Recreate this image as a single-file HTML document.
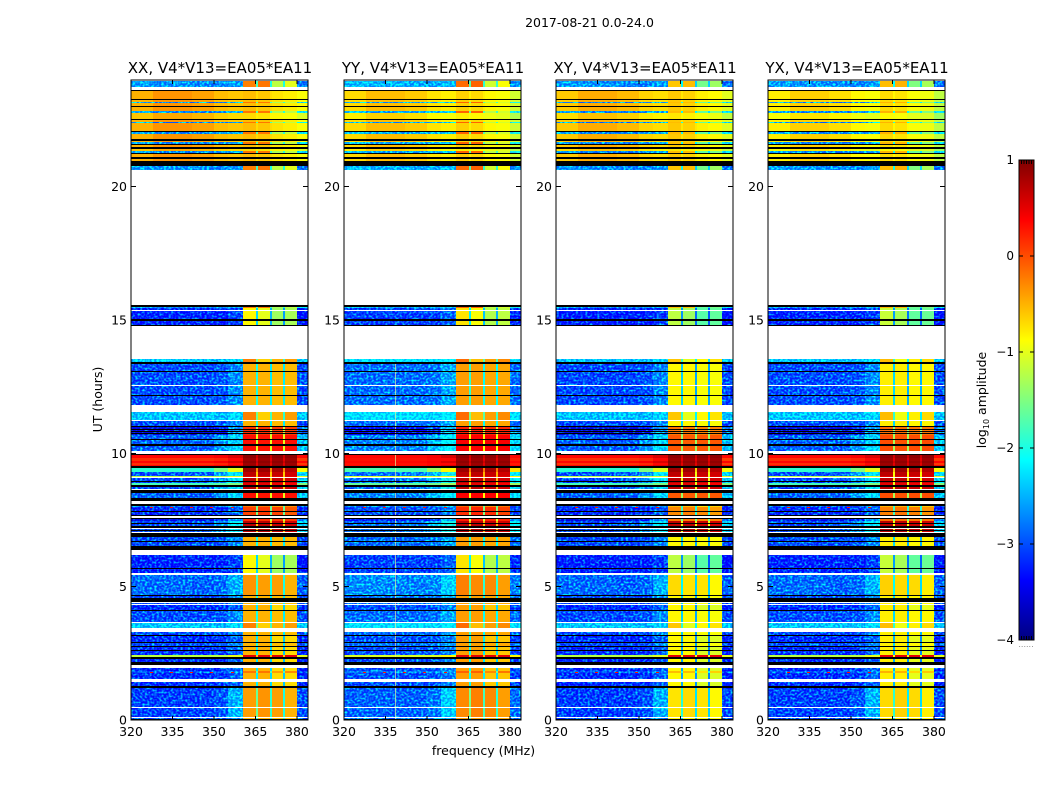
<!DOCTYPE html>
<html><head><meta charset="utf-8"><title>2017-08-21 0.0-24.0</title>
<style>
html,body{margin:0;padding:0;background:#fff}
svg{display:block;font-family:"DejaVu Sans","Liberation Sans",sans-serif;fill:#000}
</style></head>
<body>
<svg id="fig" width="1050" height="800" viewBox="0 0 1050 800" xmlns="http://www.w3.org/2000/svg" shape-rendering="crispEdges">
<defs id="defs"><linearGradient id="jetGrad" x1="0" y1="1" x2="0" y2="0"></linearGradient></defs>
<text x="589.5" y="27" font-size="12.5" text-anchor="middle">2017-08-21 0.0-24.0</text>
<text transform="translate(102,399.5) rotate(-90)" font-size="12.5" text-anchor="middle">UT (hours)</text>
<text x="483.5" y="755" font-size="12.5" text-anchor="middle">frequency (MHz)</text>
<g id="panels"></g>
<g id="cbar"></g>
<text transform="translate(986,400) rotate(-90)" font-size="12.5" text-anchor="middle">log<tspan font-size="8" dy="3">10</tspan><tspan dy="-3"> amplitude</tspan></text>
</svg>
<script>
// Panel titles and polarisation-specific level shifts (log10 amplitude)
const panelTitles = ["XX, V4*V13=EA05*EA11","YY, V4*V13=EA05*EA11","XY, V4*V13=EA05*EA11","YX, V4*V13=EA05*EA11"];
const panelLowShift = [0, 0.15, -0.02, 0];
const panelBandShift = [0, 0.1, -0.35, -0.3];
const panelWarmShift = [0, -0.2, -0.12, -0.3];
// Axis ticks
const freqTicks = [320,335,350,365,380];
const utTicks = [0,5,10,15,20];
const cbarTicks = [1,0,-1,-2,-3,-4];
// Frequency column edges (MHz)
const freqEdges = [320,328,342,350,355,360.4,365.1,365.8,370.2,370.9,374.9,375.6,380,384];
// Spectral profiles: log10 amplitude in each frequency column
const profiles = {
  tb:[-2.6,-2.65,-2.7,-2.7,-2.6,-0.25,-1.8,-0.2,-2.0,-1.2,-2.0,-1.0,-2.8],
  wm:[-0.5,-0.35,-0.42,-0.55,-0.6,-0.55,-0.7,-0.6,-0.7,-0.75,-0.8,-0.8,-0.9],
  wy:[-0.6,-0.45,-0.52,-0.65,-0.7,-0.7,-0.8,-0.75,-0.85,-0.85,-0.9,-0.9,-1.05],
  st:[-2.5,-2.7,-2.7,-2.6,-2.5,-0.2,-1.7,-0.2,-1.8,-1.3,-1.9,-1.2,-2.2],
  de:[-3.2,-3.2,-3.2,-3.2,-3.05,-0.85,-2.3,-1.0,-2.5,-1.35,-2.6,-1.3,-3.3],
  ds:[-3.15,-3.15,-3.15,-3.1,-2.9,-0.5,-2.2,-0.5,-2.3,-0.7,-2.4,-0.7,-3.2],
  dh:[-3.15,-3.15,-3.15,-3.1,-2.9,0.05,-1.5,0.1,-1.6,0.05,-1.6,-0.05,-3.2],
  mi:[-3,-3,-3,-2.95,-2.7,-0.5,-2.0,-0.5,-2.2,-0.55,-2.2,-0.55,-3],
  li:[-2.4,-2.4,-2.4,-2.45,-2.3,-0.25,-1.6,-0.65,-1.8,-0.5,-1.9,-0.4,-2.4],
  dk:[-3.5,-3.5,-3.5,-3.2,-2.6,0.15,-1.2,0.15,-1.2,0.1,-1.2,0.1,-2.8],
  hb:[-3.0,-3.0,-2.9,-2.6,-2.2,0.7,-0.6,0.7,-0.6,0.65,-0.6,0.6,-2.3],
  ho:[-2.9,-2.9,-2.9,-2.6,-2.3,0.3,-1.0,0.28,-1.0,0.3,-1.0,0.3,-2.4],
  rd:[0.35,0.35,0.35,0.4,0.55,0.92,0.6,0.92,0.6,0.92,0.6,0.92,0.35],
  ro:[0.15,0.15,0.15,0.2,0.35,0.85,0.5,0.85,0.5,0.85,0.5,0.85,0.1],
  fa:[-1.9,-1.9,-1.9,-1.5,-1.0,0.85,-0.3,0.85,-0.3,0.8,-0.3,0.75,-0.9],
  ye:[-1.2,-1.2,-1.2,-1.2,-1.0,0.5,-0.6,0.5,-0.6,0.5,-0.6,0.5,-1.0],
  gr:[-1.8,-1.8,-1.8,-1.7,-1.5,0.5,-0.7,0.5,-0.7,0.45,-0.7,0.4,-1.5],
  dt:[-2.9,-2.9,-2.9,-2.9,-2.7,-0.2,-1.6,-0.2,-1.7,-0.4,-1.7,-0.3,-3],
  bl:[-2.85,-2.85,-2.9,-2.85,-2.5,-0.35,-1.8,-0.4,-2.0,-0.4,-2.0,-0.5,-2.9],
  bu:[-3.05,-3.05,-3.05,-2.95,-2.5,-0.4,-1.6,-0.35,-1.9,-0.4,-2.0,-0.5,-3],
  K:null,
  w:null
};
// Time rows, top to bottom: [UT hour at top edge of row, profile]; a row ends where the next begins
const timeRows = [
[23.97,"tb"],[23.73,"w"],[23.63,"K"],[23.59,"wm"],[23.29,"K"],[23.25,"wm"],[23.18,"st"],[23.12,"wm"],[23.03,"K"],[22.99,"wm"],
[22.84,"st"],[22.76,"wy"],[22.54,"K"],[22.50,"wm"],[22.44,"st"],[22.39,"wm"],[22.09,"K"],[22.05,"st"],[21.99,"wm"],[21.77,"K"],
[21.73,"wm"],[21.66,"st"],[21.60,"K"],[21.56,"wm"],[21.47,"K"],[21.43,"wy"],[21.34,"st"],[21.26,"K"],[21.23,"wm"],[21.13,"K"],
[21.09,"wm"],[21.06,"K"],[21.02,"wm"],[20.98,"K"],[20.94,"wm"],[20.93,"K"],[20.79,"tb"],[20.63,"w"],
[15.56,"K"],[15.50,"st"],[15.45,"de"],[15.38,"w"],[15.34,"de"],[15.02,"K"],[14.96,"de"],[14.81,"K"],[14.78,"w"],
[13.52,"li"],[13.41,"K"],[13.35,"mi"],[13.09,"K"],[13.05,"mi"],[12.58,"w"],[12.53,"mi"],[12.19,"K"],[12.15,"mi"],[11.81,"w"],
[11.56,"li"],[11.25,"w"],[11.21,"mi"],[11.03,"K"],[10.99,"dk"],[10.91,"K"],[10.88,"dk"],[10.84,"K"],[10.80,"dk"],[10.76,"K"],[10.73,"dk"],[10.69,"ho"],
[10.54,"K"],[10.50,"ho"],[10.35,"K"],[10.28,"ho"],[10.07,"w"],[9.99,"K"],[9.95,"rd"],[9.83,"ro"],[9.71,"rd"],[9.64,"ro"],[9.56,"rd"],[9.53,"K"],[9.44,"fa"],
[9.30,"hb"],[9.15,"ye"],[9.11,"w"],[9.08,"hb"],[8.96,"K"],[8.93,"hb"],[8.87,"gr"],[8.81,"K"],[8.72,"hb"],[8.68,"w"],[8.64,"hb"],[8.61,"K"],[8.53,"ho"],[8.31,"K"],[8.23,"w"],[8.10,"K"],[8.03,"dt"],
[7.97,"dh"],[7.84,"K"],[7.80,"dh"],[7.69,"K"],[7.65,"w"],[7.59,"K"],[7.54,"dk"],[7.46,"hb"],[7.39,"K"],[7.35,"hb"],[7.28,"K"],[7.20,"w"],[7.16,"hb"],[7.13,"K"],[7.09,"hb"],[7.05,"w"],[7.01,"K"],[6.88,"mi"],
[6.71,"K"],[6.68,"mi"],[6.52,"K"],[6.37,"w"],[6.19,"de"],[5.70,"K"],[5.66,"de"],[5.51,"w"],[5.44,"bl"],[4.69,"K"],[4.65,"mi"],[4.58,"K"],[4.44,"w"],[4.39,"mi"],[4.35,"w"],[4.31,"ds"],[4.13,"K"],[4.07,"mi"],[3.69,"w"],
[3.64,"li"],[3.45,"w"],[3.30,"mi"],[3.19,"K"],[3.15,"ds"],[2.93,"K"],[2.89,"mi"],[2.78,"K"],[2.74,"ds"],[2.63,"K"],[2.59,"ds"],[2.44,"ye"],[2.36,"K"],[2.29,"ds"],[2.18,"K"],[2.06,"w"],[1.96,"ds"],[1.82,"dt"],[1.76,"ds"],[1.52,"w"],[1.44,"ds"],[1.26,"K"],[1.20,"bu"],[0.49,"w"],[0.45,"bu"],[0.11,"w"],[0.08,"mi"],[0.04,"K"],[0.0,"w"]
];
// Narrow RFI bursts: frequencies (MHz) of red spikes, and the UT hours they occur at
const rfiSpikeFreqs = [327,334,341.5,348.7,356];
const rfiSpikeHours = [8.0,1.79];
// Persistent narrow RFI channel seen in the YY panel
const rfiChannelPanel = 1;
const rfiChannelFreq = 338.6;
const rfiChannelMaxUT = 13.5;
// Axis ranges
const freqDomain = [320,384];
const utDomain = [0,24];
const cbarDomain = [-4,1];

const NS = "http://www.w3.org/2000/svg";
const panelLefts = [131,344,556,768];
const panelWidth = 177, plotTop = 80, plotBottom = 720;
function scaleFreq(f, left){ return left + (f-freqDomain[0])/(freqDomain[1]-freqDomain[0])*panelWidth; }
function scaleUT(h){ return plotBottom - (h-utDomain[0])/(utDomain[1]-utDomain[0])*(plotBottom-plotTop); }
function jet(v){
  const t = Math.max(0,Math.min(1,(v-cbarDomain[0])/(cbarDomain[1]-cbarDomain[0])));
  const ch = (a)=>Math.round(255*Math.max(0,Math.min(1,1.5-Math.abs(4*t-a))));
  return "rgb("+ch(3)+","+ch(2)+","+ch(1)+")";
}
function make(tag, attrs, parent){
  const e = document.createElementNS(NS,tag);
  for(const k in attrs) e.setAttribute(k,attrs[k]);
  parent.appendChild(e);
  return e;
}
const defs = document.getElementById("defs");
const panelsG = document.getElementById("panels");
panelTitles.forEach(function(title,p){
  const left = panelLefts[p];
  const g = make("g",{},panelsG);
  
  
  // speckle texture for the receiver-noise part of the spectrum
  const fid = "speckle"+p;
  const f = make("filter",{id:fid,filterUnits:"userSpaceOnUse",x:left,y:plotTop,width:panelWidth,height:plotBottom-plotTop,"color-interpolation-filters":"sRGB"},defs);
  make("feTurbulence",{type:"fractalNoise",baseFrequency:"0.42 0.5",numOctaves:1,seed:3+p*5,result:"n"},f);
  make("feColorMatrix",{"in":"n",type:"matrix",values:"0 0 0 0 0.2  2.2 0 0 0 -0.9  0 0 0 0 0.2  0 0 0 0 1",result:"m"},f);
  make("feComposite",{"in":"SourceGraphic",in2:"m",operator:"arithmetic",k1:0,k2:1,k3:1,k4:-0.2,result:"a"},f);
  make("feComposite",{"in":"a",in2:"SourceAlpha",operator:"in"},f);
  const noisy = make("g",{filter:"url(#"+fid+")"},g);
  
  
  const smooth = make("g",{},g);
  
  
  timeRows.forEach(function(row,i){
    const next = timeRows[i+1];
    if(!next) return;
    const kind = row[1];
    if(kind==="w") return;
    const y0 = Math.round(scaleUT(row[0])), y1 = Math.round(scaleUT(next[0]));
    const warm = kind==="wm"||kind==="wy";
    if(kind==="K"){
      const bar = make("rect",{x:left,y:y0,width:panelWidth,height:Math.max(1,y1-y0),fill:"#000"},smooth);
      
      
      return;
    }
    const prof = profiles[kind];
    prof.forEach(function(v,c){
      const isBand = c>=5 && c<=11;
      let shift = warm ? panelWarmShift[p]*(isBand?0.5:1) : (isBand?panelBandShift[p]:panelLowShift[p]);
      if(v>0.3) shift = 0;
      const x0 = Math.round(scaleFreq(freqEdges[c],left)), x1 = Math.round(scaleFreq(freqEdges[c+1],left));
      const cell = make("rect",{x:x0,y:y0,width:x1-x0,height:Math.max(0,y1-y0),fill:jet(v+shift)},(!warm&&!isBand&&v<-1.9)?noisy:smooth);
      
      
    });
    if(p===rfiChannelPanel && row[0]<rfiChannelMaxUT && !warm){
      const ch = make("rect",{x:Math.round(scaleFreq(rfiChannelFreq,left)),y:y0,width:1,height:Math.max(0,y1-y0),fill:"#d8f0a0",opacity:0.7},smooth);
      
      
    }
  });
  rfiSpikeHours.forEach(function(h){
    rfiSpikeFreqs.forEach(function(fr){
      const sp = make("rect",{x:Math.round(scaleFreq(fr,left)),y:Math.round(scaleUT(h)),width:3,height:1,fill:jet(0.3)},smooth);
      
      
    });
  });
  const frame = make("rect",{x:left,y:plotTop,width:panelWidth,height:plotBottom-plotTop,fill:"none",stroke:"#000","stroke-width":1},g);
  
  
  const ttl = make("text",{x:left+panelWidth/2+0.5,y:73,"font-size":15,"text-anchor":"middle"},g);
  
  
  ttl.textContent = title;
  freqTicks.forEach(function(fq){
    const x = scaleFreq(fq,left);
    const t1 = make("line",{x1:x,x2:x,y1:plotBottom,y2:plotBottom-4,stroke:"#000"},g);
    
    
    const t2 = make("line",{x1:x,x2:x,y1:plotTop,y2:plotTop+4,stroke:"#000"},g);
    
    
    const lab = make("text",{x:x,y:736,"font-size":12.5,"text-anchor":"middle"},g);
    
    
    lab.textContent = fq;
  });
  utTicks.forEach(function(h){
    const y = scaleUT(h);
    const t1 = make("line",{x1:left,x2:left+5,y1:y,y2:y,stroke:"#000"},g);
    
    
    const t2 = make("line",{x1:left+panelWidth,x2:left+panelWidth-5,y1:y,y2:y,stroke:"#000"},g);
    
    
    const lab = make("text",{x:left-4,y:y+4.5,"font-size":12.5,"text-anchor":"end"},g);
    
    
    lab.textContent = h;
  });
});
// Colorbar
const cbX = 1019, cbW = 15, cbTop = 160, cbBottom = 640;
function scaleCbar(v){ return cbBottom - (v-cbarDomain[0])/(cbarDomain[1]-cbarDomain[0])*(cbBottom-cbTop); }
const grad = document.getElementById("jetGrad");
for(let i=0;i<=40;i++){
  make("stop",{offset:(i/40),"stop-color":jet(cbarDomain[0]+(cbarDomain[1]-cbarDomain[0])*i/40)},grad);
}
const cbG = document.getElementById("cbar");
const cbRect = make("rect",{x:cbX,y:cbTop,width:cbW,height:cbBottom-cbTop,fill:"url(#jetGrad)",stroke:"#000"},cbG);


cbarTicks.forEach(function(v){
  const y = scaleCbar(v);
  const a = make("line",{x1:cbX,x2:cbX+4,y1:y,y2:y,stroke:"#000"},cbG);
  
  
  const b = make("line",{x1:cbX+cbW,x2:cbX+cbW-4,y1:y,y2:y,stroke:"#000"},cbG);
  
  
  const lab = make("text",{x:cbX-5,y:y+4,"font-size":12,"text-anchor":"end"},cbG);
  
  
  lab.textContent = String(v).replace("-","\u2212");
});
for(let i=1;i<=5;i++){
  const x = cbX + i*cbW/6;
  const top = make("line",{x1:x,x2:x,y1:cbTop,y2:cbTop+4,stroke:"#000"},cbG);
  
  
  const bot = make("line",{x1:x,x2:x,y1:cbBottom,y2:cbBottom-4,stroke:"#000"},cbG);
  
  
}
const dots = make("text",{x:cbX+7,y:647,"font-size":8,"text-anchor":"middle",fill:"#888"},cbG);


dots.textContent = "......";
</script>
</body></html>
